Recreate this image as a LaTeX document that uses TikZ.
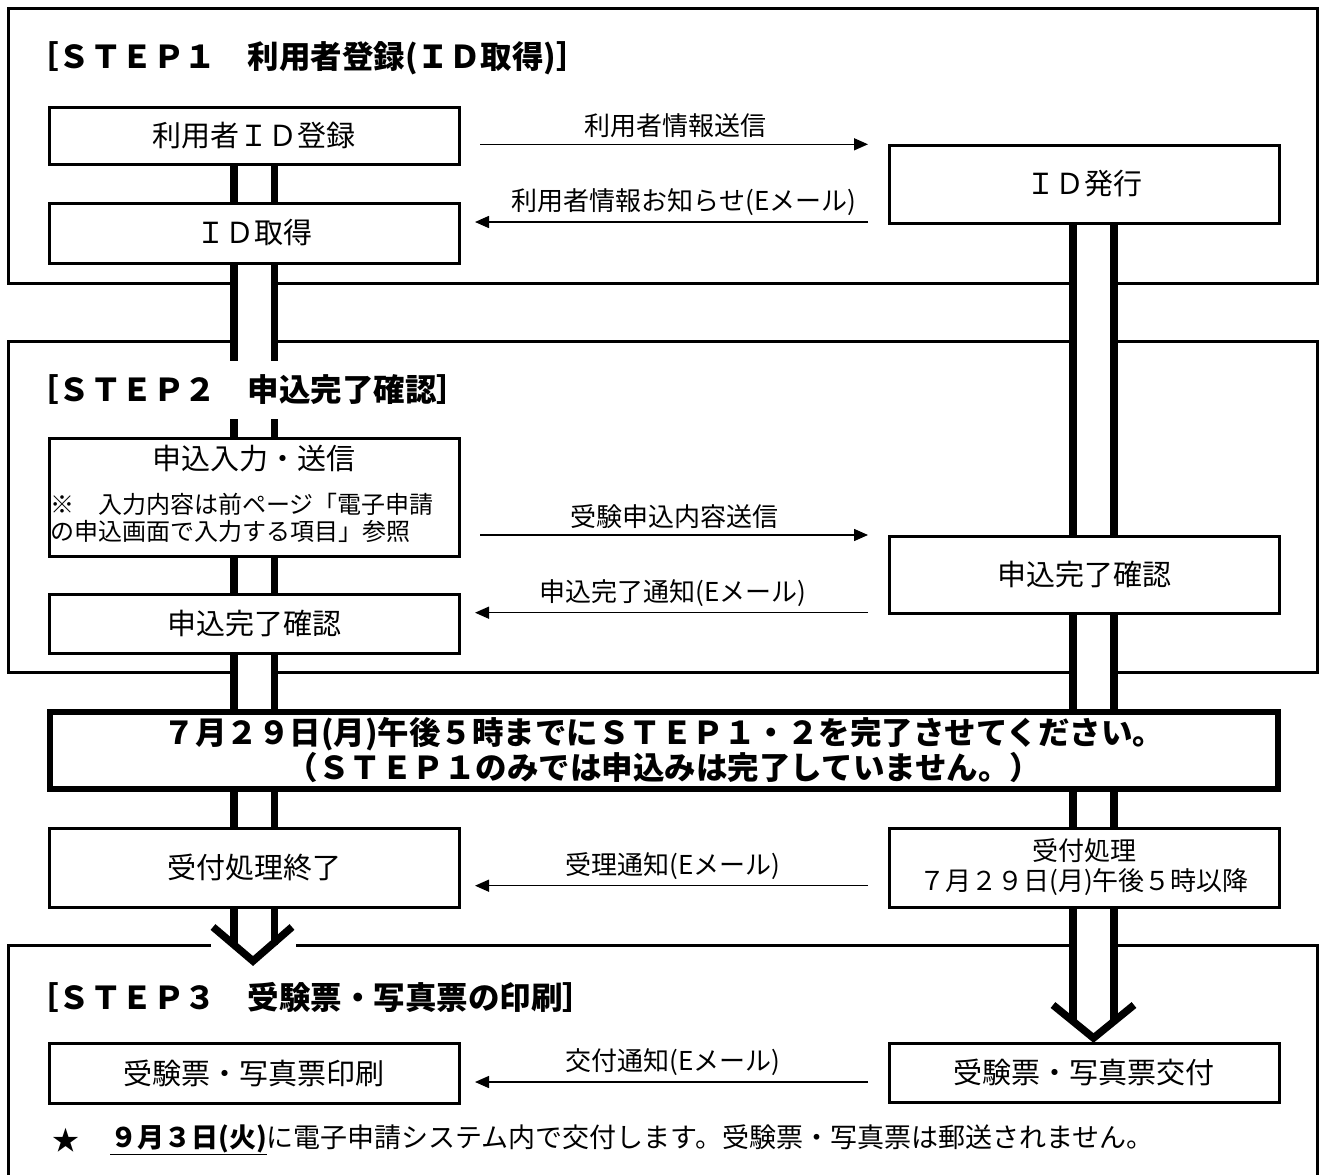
\documentclass[tikz,border=0pt]{standalone}
\usepackage{fontspec}
\setmainfont{Noto Sans CJK JP}
\usetikzlibrary{arrows.meta}
\newcommand{\pipepair}[4]{%
  \fill[white] ([xshift=#3]#1) rectangle ([xshift=#4]#2);
  \draw[pipe] ([xshift=#3]#1) -- ([xshift=#3]#2) ([xshift=#4]#1) -- ([xshift=#4]#2);}
\begin{document}
\begin{tikzpicture}[x=1pt,y=-1pt,
  stepframe/.style={draw, line width=3pt},
  box/.style={draw, line width=3pt, fill=white, inner sep=0pt, align=center, font=\fontsize{29}{34}\selectfont},
  lbox/.style={box, minimum width=410pt},
  rbox/.style={box, minimum width=390pt},
  pipe/.style={line width=7.5pt},
  chev/.style={line width=7.5pt, line join=miter},
  msg/.style={line width=1.5pt, -{Triangle[length=14pt,width=12pt]}},
  lbl/.style={font=\fontsize{26}{30}\selectfont, inner sep=0pt, anchor=south},
  heading/.style={font=\bfseries\fontsize{31.5}{36}\selectfont, anchor=west, inner sep=0pt},
  note/.style={font=\fontsize{27}{30}\selectfont, inner sep=0pt}]
\clip (0,0) rectangle (1320,1175);
\fill[white] (0,0) rectangle (1320,1175);
% step frames
\draw[stepframe] (8.5,8.5) rectangle (1317,283);
\draw[stepframe] (8.5,341) rectangle (1317,672);
\draw[stepframe] (8.5,945) rectangle (1317,1300);
% headings
\node[heading] (h1) at (27,58) {［ＳＴＥＰ１　利用者登録(ＩＤ取得)］};
\node[heading] (h2) at (27,390) {［ＳＴＥＰ２　申込完了確認］};
\node[heading] (h3) at (27,997) {［ＳＴＥＰ３　受験票・写真票の印刷］};
% left column boxes
\node[lbox, minimum height=57pt] (u1) at (254,135.5) {利用者ＩＤ登録};
\node[lbox, minimum height=60pt] (u2) at (254,233) {ＩＤ取得};
\node[lbox, minimum height=118pt] (u3) at (254,497) {};
\node[font=\fontsize{29}{34}\selectfont, inner sep=0pt] (u3t) at (254,459) {申込入力・送信};
\node[font=\fontsize{24}{27}\selectfont, inner sep=0pt, anchor=west, align=left] (u3n) at (50,517.5) {※　入力内容は前ページ「電子申請\\の申込画面で入力する項目」参照};
\node[lbox, minimum height=59pt] (u4) at (254,623.5) {申込完了確認};
\node[lbox, minimum height=79pt] (u5) at (254,867.5) {受付処理終了};
\node[lbox, minimum height=60pt] (u6) at (254,1073) {受験票・写真票印刷};
% right column boxes
\node[rbox, minimum height=78pt] (s1) at (1084,184) {ＩＤ発行};
\node[rbox, minimum height=77pt] (s2) at (1084,574.5) {申込完了確認};
\node[rbox, minimum height=79pt, font=\fontsize{26}{30}\selectfont] (s3) at (1084,867.5) {受付処理\\７月２９日(月)午後５時以降};
\node[rbox, minimum height=59pt] (s4) at (1084,1072.5) {受験票・写真票交付};
% banner
\node[draw, line width=6pt, fill=white, minimum width=1228.5pt, minimum height=77pt, inner sep=0pt, align=center,
  font=\bfseries\fontsize{31.5}{35}\selectfont] (ban) at (664,750.5)
  {７月２９日(月)午後５時までにＳＴＥＰ１・２を完了させてください。\\（ＳＴＥＰ１のみでは申込みは完了していません。）};
% pipe end points
\coordinate (l2e) at (254,361);
\coordinate (l3s) at (254,419);
\coordinate (l7e) at (254,945);
\coordinate (r4e) at (1084,1022);
\coordinate (lbt) at (u4.south |- ban.north);
\coordinate (lbb) at (u4.south |- ban.south);
\coordinate (rbt) at (s2.south |- ban.north);
\coordinate (rbb) at (s2.south |- ban.south);
% left pipes
\pipepair{u1.south}{u2.north}{-20pt}{20.5pt}
\pipepair{u2.south}{l2e}{-20pt}{20.5pt}
\pipepair{l3s}{u3.north}{-20pt}{20.5pt}
\pipepair{u3.south}{u4.north}{-20pt}{20.5pt}
\pipepair{u4.south}{lbt}{-20pt}{20.5pt}
\pipepair{lbb}{u5.north}{-20pt}{20.5pt}
\fill[white] (211,937) rectangle (296,953);
\pipepair{u5.south}{l7e}{-20pt}{20.5pt}
% right pipes
\pipepair{s1.south}{s2.north}{-11pt}{30pt}
\pipepair{s2.south}{rbt}{-11pt}{30pt}
\pipepair{rbb}{s3.north}{-11pt}{30pt}
\pipepair{s3.south}{r4e}{-11pt}{30pt}
% arrowheads of the pipes
\coordinate (lw1) at (213,927); \coordinate (lt) at (253,961); \coordinate (lw2) at (292,927);
\draw[chev] (lw1) -- (lt) -- (lw2);
\coordinate (rw1) at (1053,1005); \coordinate (rt) at (1093.5,1038); \coordinate (rw2) at (1134,1005);
\draw[chev] (rw1) -- (rt) -- (rw2);
% message arrows
\coordinate (a1s) at (480,144.3); \coordinate (a1e) at (868,144.3);
\coordinate (a2s) at (868,222); \coordinate (a2e) at (475,222);
\coordinate (a3s) at (480,535); \coordinate (a3e) at (868,535);
\coordinate (a4s) at (868,612.7); \coordinate (a4e) at (475,612.7);
\coordinate (a5s) at (868,885.7); \coordinate (a5e) at (475,885.7);
\coordinate (a6s) at (868,1082); \coordinate (a6e) at (475,1082);
\draw[msg] (a1s) -- (a1e);
\draw[msg] (a2s) -- (a2e);
\draw[msg] (a3s) -- (a3e);
\draw[msg] (a4s) -- (a4e);
\draw[msg] (a5s) -- (a5e);
\draw[msg] (a6s) -- (a6e);
\node[lbl] (m1) at (675,138) {利用者情報送信};
\node[lbl] (m2) at (684,216) {利用者情報お知らせ(Eメール)};
\node[lbl] (m3) at (674,529) {受験申込内容送信};
\node[lbl] (m4) at (673,606.7) {申込完了通知(Eメール)};
\node[lbl] (m5) at (673,879.7) {受理通知(Eメール)};
\node[lbl] (m6) at (673,1076) {交付通知(Eメール)};
% bottom note
\node[note] (star) at (66,1140) {★};
\node[note, anchor=west] (nt) at (110,1140) {\underline{\textbf{９月３日(火)}}に電子申請システム内で交付します。受験票・写真票は郵送されません。};
\end{tikzpicture}
\end{document}
